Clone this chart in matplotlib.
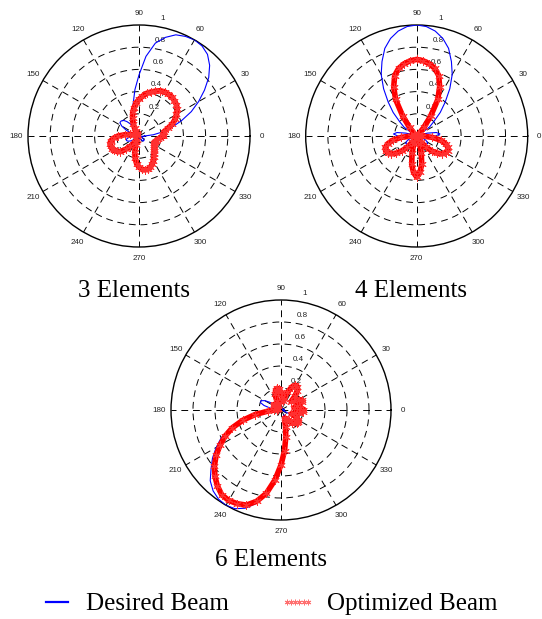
import numpy as np
import matplotlib
matplotlib.use("Agg")
import matplotlib.pyplot as plt
from matplotlib.lines import Line2D

# ---------------- data ----------------
angles_deg = list(range(0, 360, 5))

desired_3 = [0.05, 0.13, 0.22, 0.31, 0.41, 0.52, 0.62, 0.72, 0.82, 0.90, 0.96, 0.99,
             1.00, 0.99, 0.97, 0.92, 0.85, 0.72, 0.55, 0.42, 0.30, 0.22, 0.16, 0.13,
             0.11, 0.13, 0.17, 0.20, 0.21, 0.21, 0.18, 0.13, 0.08, 0.04, 0.02, 0.03,
             0.05, 0.08, 0.10, 0.12, 0.12, 0.11, 0.09, 0.06, 0.04, 0.02, 0.02, 0.02,
             0.02, 0.02, 0.02, 0.02, 0.02, 0.02, 0.02, 0.02, 0.02, 0.02, 0.02, 0.03,
             0.04, 0.05, 0.06, 0.06, 0.06, 0.05, 0.04, 0.03, 0.02, 0.02, 0.02, 0.03]
optimized_3 = [0.22, 0.22, 0.23, 0.27, 0.32, 0.36, 0.39, 0.42, 0.44, 0.45, 0.46, 0.46,
               0.46, 0.45, 0.43, 0.41, 0.39, 0.36, 0.33, 0.30, 0.26, 0.22, 0.17, 0.12,
               0.08, 0.05, 0.03, 0.02, 0.02, 0.02, 0.02, 0.02, 0.03, 0.05, 0.08, 0.13,
               0.19, 0.23, 0.26, 0.27, 0.27, 0.27, 0.26, 0.24, 0.22, 0.17, 0.12, 0.07,
               0.04, 0.06, 0.09, 0.15, 0.20, 0.25, 0.28, 0.30, 0.31, 0.31, 0.30, 0.28,
               0.26, 0.23, 0.21, 0.19, 0.18, 0.17, 0.16, 0.15, 0.15, 0.16, 0.17, 0.19]

desired_4 = [0.17, 0.21, 0.18, 0.10, 0.03, 0.02, 0.04, 0.14, 0.20, 0.30, 0.40, 0.52,
             0.64, 0.74, 0.84, 0.91, 0.96, 0.99, 1.00, 0.99, 0.96, 0.91, 0.84, 0.74,
             0.64, 0.52, 0.40, 0.30, 0.20, 0.14, 0.04, 0.02, 0.03, 0.10, 0.18, 0.21,
             0.17, 0.10, 0.04, 0.03, 0.06, 0.09, 0.11, 0.12, 0.11, 0.08, 0.05, 0.03,
             0.02, 0.02, 0.02, 0.02, 0.02, 0.02, 0.02, 0.02, 0.02, 0.02, 0.02, 0.02,
             0.02, 0.03, 0.05, 0.08, 0.11, 0.12, 0.11, 0.09, 0.06, 0.03, 0.04, 0.10]
optimized_4 = [0.05, 0.02, 0.02, 0.02, 0.02, 0.02, 0.02, 0.02, 0.02, 0.03, 0.10, 0.22,
               0.38, 0.49, 0.58, 0.63, 0.66, 0.68, 0.69, 0.68, 0.66, 0.63, 0.58, 0.49,
               0.38, 0.22, 0.10, 0.03, 0.02, 0.02, 0.02, 0.02, 0.02, 0.02, 0.02, 0.02,
               0.05, 0.14, 0.22, 0.27, 0.30, 0.31, 0.30, 0.28, 0.24, 0.19, 0.13, 0.07,
               0.03, 0.03, 0.08, 0.16, 0.26, 0.33, 0.37, 0.33, 0.26, 0.16, 0.08, 0.03,
               0.03, 0.07, 0.13, 0.19, 0.24, 0.28, 0.30, 0.31, 0.30, 0.27, 0.22, 0.14]

desired_6 = [0.03, 0.02, 0.02, 0.02, 0.02, 0.02, 0.02, 0.02, 0.02, 0.02, 0.02, 0.02,
             0.02, 0.02, 0.02, 0.02, 0.02, 0.02, 0.02, 0.02, 0.02, 0.02, 0.02, 0.02,
             0.02, 0.02, 0.02, 0.03, 0.06, 0.12, 0.17, 0.20, 0.20, 0.16, 0.10, 0.06,
             0.08, 0.16, 0.29, 0.40, 0.50, 0.60, 0.68, 0.76, 0.83, 0.91, 0.96, 0.99,
             1.00, 0.99, 0.95, 0.88, 0.78, 0.66, 0.52, 0.38, 0.27, 0.18, 0.12, 0.07,
             0.05, 0.08, 0.14, 0.19, 0.21, 0.19, 0.14, 0.08, 0.04, 0.02, 0.02, 0.02]
optimized_6 = [0.20, 0.17, 0.12, 0.15, 0.20, 0.21, 0.19, 0.14, 0.12, 0.18, 0.23, 0.26,
               0.26, 0.23, 0.17, 0.10, 0.08, 0.12, 0.16, 0.19, 0.20, 0.19, 0.15, 0.09,
               0.05, 0.04, 0.05, 0.07, 0.08, 0.08, 0.07, 0.05, 0.04, 0.03, 0.03, 0.04,
               0.06, 0.12, 0.24, 0.36, 0.47, 0.56, 0.64, 0.72, 0.79, 0.85, 0.90, 0.94,
               0.95, 0.94, 0.92, 0.86, 0.77, 0.64, 0.50, 0.37, 0.25, 0.16, 0.10, 0.08,
               0.10, 0.12, 0.15, 0.17, 0.19, 0.19, 0.18, 0.15, 0.10, 0.12, 0.17, 0.20]

panel_titles = ["3 Elements", "4 Elements", "6 Elements"]
theta_ticks = list(range(0, 360, 30))
r_ticks = [0.2, 0.4, 0.6, 0.8, 1.0]
legend_labels = ["Desired Beam", "Optimized Beam"]

# ---------------- figure ----------------
W, H = 542, 619
fig = plt.figure(figsize=(W / 100, H / 100), dpi=100)

SANS = "Liberation Sans"
SERIF = "Liberation Serif"


def make_polar(cx, cy, rad):
    ax = fig.add_axes([(cx - rad) / W, (H - cy - rad) / H, 2 * rad / W, 2 * rad / H],
                      projection="polar")
    ax.set_ylim(0, 1)
    ax.set_rgrids(r_ticks[:-1], labels=[])
    ax.set_thetagrids(theta_ticks, labels=[])
    ax.grid(True, color="black", linestyle=(0, (7, 5)), linewidth=0.7)
    ax.spines["polar"].set_color("black")
    ax.spines["polar"].set_linewidth(1.0)
    ax.set_axisbelow(True)
    ax.patch.set_alpha(0)
    for t in theta_ticks:
        ax.text(np.deg2rad(t), 1.105, str(t), ha="center", va="center",
                fontsize=5.8, family=SANS, color="#222222", clip_on=False)
    for rt in r_ticks:
        x = 0.115 + 0.1 * rt
        y = rt + 0.06
        ax.text(np.arctan2(y, x), np.hypot(x, y), f"{rt:g}", ha="center", va="center",
                fontsize=5.8, family=SANS, color="#222222", clip_on=False)
    return ax


def draw(ax, desired, optimized):
    th = np.deg2rad(angles_deg + [angles_deg[0]])
    d = desired + [desired[0]]
    o = optimized + [optimized[0]]
    ax.plot(th, d, color="blue", linewidth=0.8, zorder=3)
    ax.plot(th, o, color="red", linewidth=4.0, zorder=4, solid_joinstyle="round")
    ax.plot(th, o, linestyle="none", marker=(6, 2, 0), markersize=6,
            markeredgewidth=0.7, color="#ff3030", zorder=5)


ax1 = make_polar(139, 136, 111)
draw(ax1, desired_3, optimized_3)
ax2 = make_polar(416.7, 136, 111)
draw(ax2, desired_4, optimized_4)
ax3 = make_polar(281, 410, 110)
draw(ax3, desired_6, optimized_6)

fig.text(134 / W, 1 - 291 / H, panel_titles[0], ha="center", va="center",
         fontsize=18, family=SERIF)
fig.text(411 / W, 1 - 291 / H, panel_titles[1], ha="center", va="center",
         fontsize=18, family=SERIF)
fig.text(271 / W, 1 - 560 / H, panel_titles[2], ha="center", va="center",
         fontsize=18, family=SERIF)

handles = [Line2D([], [], color="blue", linewidth=1.6),
           Line2D([], [], linestyle="none", marker=(6, 2, 0), markersize=4,
                  markeredgewidth=0.7, color="#ff7070")]
fig.legend(handles, legend_labels, loc="center", bbox_to_anchor=(268 / W, 1 - 604 / H),
           ncol=2, frameon=False, prop={"family": SERIF, "size": 18},
           handlelength=1.45, handletextpad=0.45, columnspacing=2.0, numpoints=6)

fig.savefig("out.png", dpi=100)
